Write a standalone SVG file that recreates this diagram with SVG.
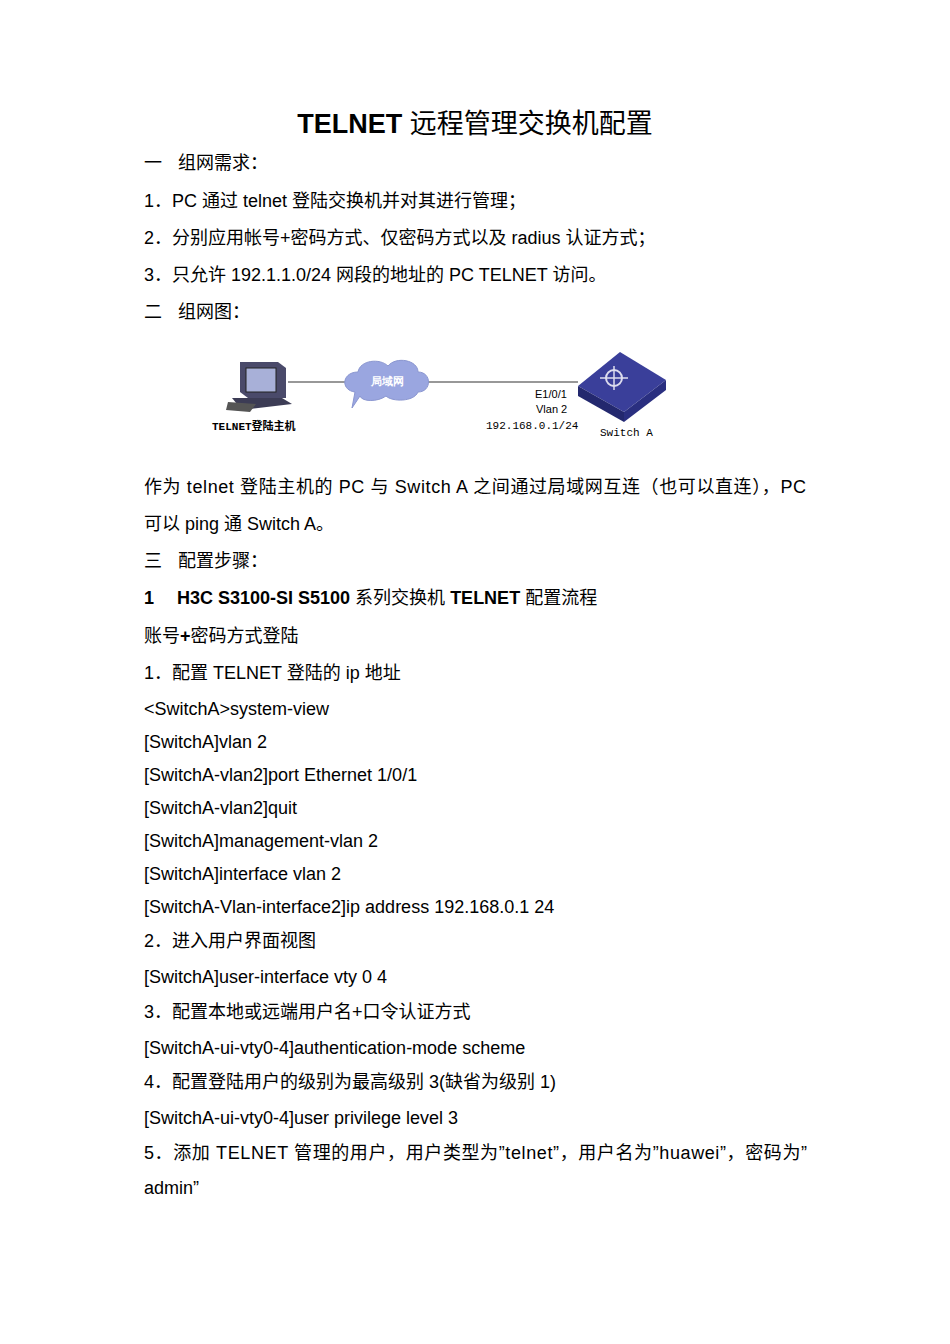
<svg xmlns="http://www.w3.org/2000/svg" width="950" height="1344" viewBox="0 0 950 1344">
<style>
.t{font-family:"Liberation Sans","Noto Sans CJK SC",sans-serif;font-size:18px;fill:#000}
.b{font-weight:bold}
.s{font-family:"Liberation Mono","Noto Sans CJK SC",monospace;font-size:11px;fill:#000}
.l{font-family:"Liberation Sans",sans-serif;font-size:11px;fill:#000}
</style>
<rect width="950" height="1344" fill="#fff"/>
<text x="475" y="133" text-anchor="middle" class="t" style="font-size:27px"><tspan font-weight="bold">TELNET</tspan> 远程管理交换机配置</text>
<g class="t">
<text x="144" y="169">一<tspan x="178">组网需求：</tspan></text>
<text x="144" y="207">1．PC 通过 telnet 登陆交换机并对其进行管理；</text>
<text x="144" y="244">2．分别应用帐号+密码方式、仅密码方式以及 radius 认证方式；</text>
<text x="144" y="281">3．只允许 192.1.1.0/24 网段的地址的 PC TELNET 访问。</text>
<text x="144" y="318">二<tspan x="178">组网图：</tspan></text>
<text x="144" y="493" textLength="662">作为 telnet 登陆主机的 PC 与 Switch A 之间通过局域网互连（也可以直连），PC</text>
<text x="144" y="530">可以 ping 通 Switch A。</text>
<text x="144" y="567">三<tspan x="178">配置步骤：</tspan></text>
<text x="144" y="604"><tspan class="b">1</tspan><tspan x="177" class="b">H3C S3100-SI S5100</tspan> 系列交换机 <tspan class="b">TELNET</tspan> 配置流程</text>
<text x="144" y="642">账号<tspan class="b">+</tspan>密码方式登陆</text>
<text x="144" y="679">1．配置 TELNET 登陆的 ip 地址</text>
<text x="144" y="715">&lt;SwitchA&gt;system-view</text>
<text x="144" y="748">[SwitchA]vlan 2</text>
<text x="144" y="781">[SwitchA-vlan2]port Ethernet 1/0/1</text>
<text x="144" y="814">[SwitchA-vlan2]quit</text>
<text x="144" y="847">[SwitchA]management-vlan 2</text>
<text x="144" y="880">[SwitchA]interface vlan 2</text>
<text x="144" y="913">[SwitchA-Vlan-interface2]ip address 192.168.0.1 24</text>
<text x="144" y="947">2．进入用户界面视图</text>
<text x="144" y="983">[SwitchA]user-interface vty 0 4</text>
<text x="144" y="1018">3．配置本地或远端用户名+口令认证方式</text>
<text x="144" y="1054">[SwitchA-ui-vty0-4]authentication-mode scheme</text>
<text x="144" y="1088">4．配置登陆用户的级别为最高级别 3(缺省为级别 1)</text>
<text x="144" y="1124">[SwitchA-ui-vty0-4]user privilege level 3</text>
<text x="144" y="1159" textLength="663">5．添加 TELNET 管理的用户，用户类型为”telnet”，用户名为”huawei”，密码为”</text>
<text x="144" y="1194">admin”</text>
</g>
<g id="connectors" stroke="#333" stroke-width="1.2">
<line x1="288" y1="382" x2="348" y2="382"/>
<line x1="428" y1="382" x2="578" y2="382"/>
</g>
<g id="pc">
<polygon points="240,362 278,362 286,368 286,398 248,398 240,392" fill="#4a4a6a"/>
<rect x="246" y="368" width="30" height="24" fill="#a8b0d8" stroke="#222"/>
<polygon points="232,398 282,398 292,404 242,410" fill="#3c3c55"/>
<polygon points="228,402 256,404 250,412 226,410" fill="#555"/>
<text x="212" y="430" class="s" font-weight="bold">TELNET登陆主机</text>
</g>
<g id="cloud">
<path d="M355,392 C340,390 342,372 358,372 C360,360 380,358 388,366 C396,356 418,360 418,372 C432,372 432,392 418,392 C414,402 392,402 386,396 C378,402 362,402 360,396 L352,408 Z" fill="#9aa6e0" stroke="#8a96d0"/>
<text x="387" y="385" text-anchor="middle" class="l" font-weight="bold" style="fill:#fff">局域网</text>
</g>
<g id="switch">
<polygon points="578,386 620,352 666,380 624,412" fill="#3a3f9a"/>
<polygon points="578,386 624,412 624,422 578,396" fill="#23286e"/>
<polygon points="624,412 666,380 666,390 624,422" fill="#2a2f80"/>
<circle cx="614" cy="378" r="8" fill="none" stroke="#dde" stroke-width="2"/>
<path d="M600,378 H628 M614,366 V390" stroke="#dde" stroke-width="1.5"/>
<text x="600" y="436" class="s">Switch A</text>
</g>
<text x="535" y="398" class="l">E1/0/1</text>
<text x="536" y="413" class="l">Vlan 2</text>
<text x="486" y="429" class="s">192.168.0.1/24</text>
</svg>
